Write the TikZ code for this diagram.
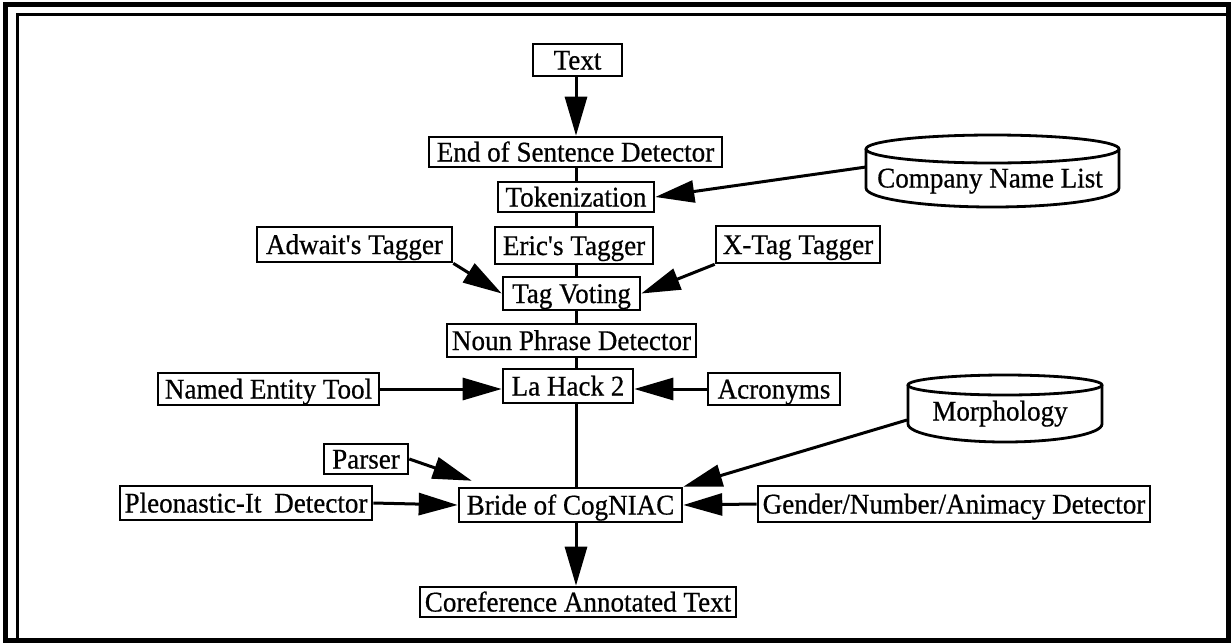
\documentclass[tikz,border=0pt]{standalone}
\usepackage{fontspec}
\setmainfont{Liberation Serif}[FakeStretch=0.95,FakeBold=0.6]
\usetikzlibrary{arrows.meta}
\begin{document}
\begin{tikzpicture}[x=1pt,y=-1pt,
  box/.style={draw, line width=2.6pt, inner sep=0pt, text height=19pt, text depth=0pt,
              font=\fontsize{28.5}{31}\selectfont},
  lbl/.style={inner sep=0pt, text height=19pt, text depth=0pt, font=\fontsize{28.5}{31}\selectfont},
  conn/.style={line width=3pt},
  arr/.style={line width=3pt, -{Triangle[length=39pt,width=22pt]}},
  cyl/.style={line width=2.8pt}]
\useasboundingbox (0,0) rectangle (1231,643);
% frame
\draw[line width=5pt] (5.5,640.5) -- (5.5,4.5) -- (1228.5,4.5) -- (1228.5,640.5) -- cycle;
\draw[line width=3pt] (17,638) -- (17,14.5) -- (1226,14.5);
\coordinate (spine) at (576,0);
% main column
\node[box, minimum width=89pt,  minimum height=32pt] (text)   at (577.5,60)  {Text};
\node[box, minimum width=293pt, minimum height=30pt] (eos)    at (575.5,152) {End of Sentence Detector};
\node[box, minimum width=156pt, minimum height=30pt] (tok)    at (576,197)   {Tokenization};
\node[box, minimum width=158pt, minimum height=37pt] (eric)   at (574,245.5) {Eric\textquotesingle s Tagger};
\node[box, minimum width=195pt, minimum height=35pt] (adw)    at (354.5,244.5) {Adwait\textquotesingle s Tagger};
\node[box, minimum width=164pt, minimum height=37pt] (xtag)   at (798,244.5) {X-Tag Tagger};
\node[box, minimum width=137pt, minimum height=33pt] (tv)     at (571.5,293.5) {Tag Voting};
\node[box, minimum width=249pt, minimum height=33pt] (np)     at (571.5,340.5) {Noun Phrase Detector};
\node[box, minimum width=130pt, minimum height=34pt] (lh)     at (568,386)   {La Hack 2};
\node[box, minimum width=221pt, minimum height=32pt] (ne)     at (268.5,389) {Named Entity Tool};
\node[box, minimum width=132pt, minimum height=32pt] (acr)    at (774,389)   {Acronyms};
\node[box, minimum width=84pt,  minimum height=30pt] (parser) at (366,459)   {Parser};
\node[box, minimum width=252pt, minimum height=34pt] (pleo)   at (246,503)   {Pleonastic-It\hspace{0.45em}Detector};
\node[box, minimum width=223pt, minimum height=34pt] (bride)  at (570.5,505) {Bride of CogNIAC};
\node[box, minimum width=392pt, minimum height=36pt] (gender) at (954,504)   {Gender/Number/Animacy Detector};
\node[box, minimum width=316pt, minimum height=30pt] (coref)  at (578,602)   {Coreference Annotated Text};
% cylinders
\node[lbl] (cnl) at (990,178) {Company Name List};
\draw[cyl] (992.5,149) ellipse [x radius=126.5pt, y radius=14pt];
\draw[cyl] (866,149) -- (866,188) arc[start angle=180, end angle=360, x radius=126.5pt, y radius=19pt] -- (1119,149);
\coordinate (cnlW) at (866,167);
\node[lbl] (morph) at (1000,411) {Morphology};
\draw[cyl] (1005,385) ellipse [x radius=97pt, y radius=10pt];
\draw[cyl] (908,385) -- (908,424) arc[start angle=180, end angle=360, x radius=97pt, y radius=18pt] -- (1102,385);
\coordinate (morphW) at (907,420);
% spine connectors
\draw[arr]  (text.south -| spine) -- (eos.north -| spine);
\draw[conn] (eos.south -| spine) -- (tok.north -| spine);
\draw[conn] (tok.south -| spine) -- (eric.north -| spine);
\draw[conn] (eric.south -| spine) -- (tv.north -| spine);
\draw[conn] (tv.south -| spine) -- (np.north -| spine);
\draw[conn] (np.south -| spine) -- (lh.north -| spine);
\draw[conn] (lh.south -| spine) -- (bride.north -| spine);
\draw[arr]  (bride.south -| spine) -- (coref.north -| spine);
% side inputs
\draw[arr] (cnlW) -- (tok.east);
\draw[arr] (adw.south east) -- (tv.west);
\draw[arr] (xtag.south west) -- (tv.east);
\draw[arr] (ne.east) -- (ne.east -| lh.west);
\draw[arr] (acr.west) -- (acr.west -| lh.east);
\draw[arr] (parser.east) -- ([xshift=14pt,yshift=6pt]bride.north west);
\draw[arr] (pleo.east) -- (bride.west);
\draw[arr] (morphW) -- (bride.north east);
\draw[arr] (gender.west) -- (bride.east);
\end{tikzpicture}
\end{document}
